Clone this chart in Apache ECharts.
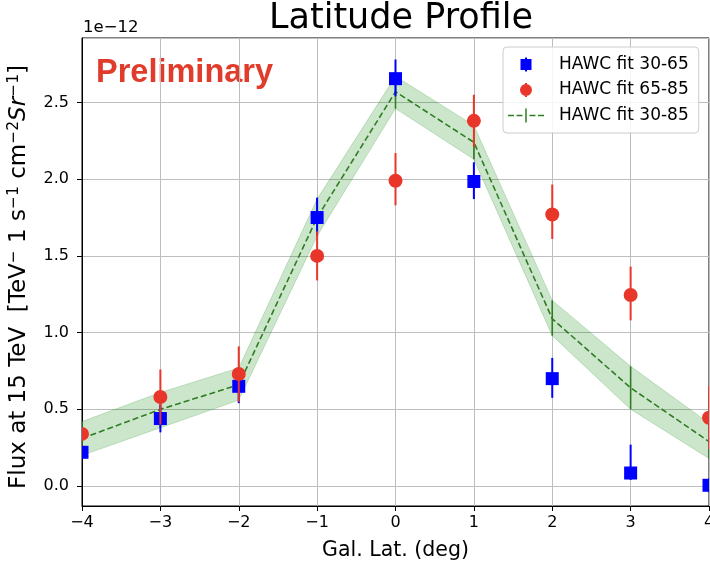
<!DOCTYPE html>
<html>
<head>
<meta charset="utf-8">
<script src="https://cdn.jsdelivr.net/npm/echarts@6/dist/echarts.min.js"></script>
<style>
  html, body { margin: 0; padding: 0; background: #fff; }
  #main { width: 710px; height: 571px; }
</style>
</head>
<body>
<div id="main"></div>
<script>
// flux values in units of 1e-12
const lat = [-4, -3, -2, -1, 0, 1, 2, 3, 4];

const flux3065 = [0.22, 0.44, 0.65, 1.75, 2.655, 1.985, 0.70, 0.085, 0.005];
const lo3065 = [0.18, 0.35, 0.54, 1.63, 2.54, 1.87, 0.575, 0.04, -0.04];
const hi3065 = [0.26, 0.53, 0.72, 1.88, 2.78, 2.11, 0.835, 0.27, 0.05];

const flux6585 = [0.34, 0.58, 0.73, 1.50, 1.99, 2.38, 1.77, 1.245, 0.445];
const lo6585 = [0.30, 0.40, 0.55, 1.34, 1.83, 2.21, 1.61, 1.08, 0.24];
const hi6585 = [0.38, 0.76, 0.91, 1.66, 2.17, 2.55, 1.965, 1.43, 0.65];

const fit3085 = [0.31, 0.50, 0.66, 1.75, 2.57, 2.24, 1.09, 0.64, 0.29];
const fitLo = [0.20, 0.38, 0.56, 1.63, 2.46, 2.13, 0.98, 0.50, 0.18];
const fitHi = [0.42, 0.61, 0.77, 1.87, 2.67, 2.35, 1.21, 0.78, 0.41];

const FONT = 'DejaVu Sans';
const BLUE = '#0000ff';
const RED = '#e8372a';
const GREEN = '#2f7d22';

function rows(ys, lo, hi) {
    return lat.map((x, i) => [x, ys[i], lo[i], hi[i]]);
}

function minus(v) {
    return (v < 0 ? '\u2212' : '') + Math.abs(v);
}

function pointSeries(name, ys, lo, hi, color, shape, z) {
    return {
        name: name,
        type: 'custom',
        clip: true,
        z: z,
        itemStyle: { color: color },
        data: rows(ys, lo, hi),
        renderItem: function (params, api) {
            const c = api.coord([api.value(0), api.value(1)]);
            const l = api.coord([api.value(0), api.value(2)]);
            const h = api.coord([api.value(0), api.value(3)]);
            const bar = {
                type: 'line',
                shape: { x1: c[0], y1: l[1], x2: c[0], y2: h[1] },
                style: { stroke: color, lineWidth: 2 }
            };
            let mark;
            if (shape === 'rect') {
                mark = { type: 'rect', shape: { x: c[0] - 6.5, y: c[1] - 6.5, width: 13, height: 13 }, style: { fill: color } };
            } else {
                mark = { type: 'circle', shape: { cx: c[0], cy: c[1], r: 7 }, style: { fill: color } };
            }
            return { type: 'group', children: [bar, mark] };
        }
    };
}

const chart = echarts.init(document.getElementById('main'));

chart.setOption({
    animation: false,
    title: {
        text: 'Latitude Profile',
        left: 396,
        textAlign: 'center',
        top: -4,
        textStyle: { fontFamily: FONT, fontSize: 35, fontWeight: 'normal', color: '#000' }
    },
    grid: {
        left: 82, right: 1, top: 38, bottom: 65,
        outerBoundsMode: 'none',
        containLabel: false,
        show: true, borderColor: '#000', borderWidth: 1
    },
    legend: {
        orient: 'vertical',
        left: 503, top: 47,
        padding: [9, 10, 9, 5],
        itemWidth: 36, itemHeight: 14, itemGap: 8.5,
        backgroundColor: 'rgba(255,255,255,0.85)',
        borderColor: '#cccccc', borderWidth: 1, borderRadius: 4,
        itemStyle: { borderWidth: 0 },
        textStyle: { fontFamily: FONT, fontSize: 17, color: '#000', padding: [0, 0, 0, 10] },
        data: [
            { name: 'HAWC fit 30-65', icon: 'path://M0,0h0.01v0.01h-0.01z M35.99,13.99h0.01v0.01h-0.01z M12.5,1.5h11v11h-11z M17,0h2v14h-2z' },
            { name: 'HAWC fit 65-85', icon: 'path://M0,0h0.01v0.01h-0.01z M35.99,13.99h0.01v0.01h-0.01z M12,7a6,6 0 1,1 12,0a6,6 0 1,1 -12,0z M17,0h2v14h-2z' },
            { name: 'HAWC fit 30-85', icon: 'path://M0,0h0.01v0.01h-0.01z M35.99,13.99h0.01v0.01h-0.01z M0,6.25h6v1.5h-6z M8.5,6.25h6v1.5h-6z M21.5,6.25h6v1.5h-6z M30,6.25h6v1.5h-6z M17.25,0h1.5v14h-1.5z' }
        ]
    },
    graphic: [
        {
            type: 'text', left: 83, top: 19,
            style: { text: '1e\u221212', fontFamily: FONT, fontSize: 16.5, fill: '#000' }
        },
        {
            type: 'text', x: 96, y: 73,
            style: { text: 'Preliminary', fontFamily: 'Liberation Sans', fontWeight: 'bold', fontSize: 32.5, fill: '#e03b2b', verticalAlign: 'middle' }
        }
    ],
    xAxis: {
        type: 'value',
        min: -4, max: 4, interval: 1,
        name: 'Gal. Lat. (deg)',
        nameLocation: 'middle',
        nameGap: 34,
        nameTextStyle: { fontFamily: FONT, fontSize: 20.5, color: '#000' },
        axisLine: { onZero: false, lineStyle: { color: '#000', width: 1 } },
        axisTick: { length: 5, lineStyle: { color: '#000' } },
        axisLabel: { fontFamily: FONT, fontSize: 16, color: '#000', margin: 9, formatter: minus },
        splitLine: { show: true, lineStyle: { color: '#bdbdbd', width: 1 } }
    },
    yAxis: {
        type: 'value',
        min: -0.13, max: 2.92, splitNumber: 6,
        name: 'Flux at 15 TeV  [TeV{s|\u2212} 1 s{s|\u22121} cm{s|\u22122}{i|Sr}{s|\u22121}]',
        nameLocation: 'middle',
        nameGap: 50,
        nameTextStyle: {
            fontFamily: FONT, fontSize: 23, color: '#000', lineHeight: 26,
            padding: [0, 10, 0, 0],
            rich: {
                s: { fontFamily: FONT, fontSize: 15.5, color: '#000', lineHeight: 15, verticalAlign: 'top' },
                i: { fontFamily: FONT, fontSize: 23, fontStyle: 'italic', color: '#000', lineHeight: 26 }
            }
        },
        axisLine: { show: true, onZero: false, lineStyle: { color: '#000', width: 1 } },
        axisTick: { show: true, length: 5, lineStyle: { color: '#000' } },
        axisLabel: {
            fontFamily: FONT, fontSize: 16, color: '#000', margin: 13,
            showMinLabel: false, showMaxLabel: false,
            formatter: v => (v < 0 ? '\u2212' : '') + Math.abs(v).toFixed(1)
        },
        splitLine: { show: true, lineStyle: { color: '#bdbdbd', width: 1 } }
    },
    series: [
        {
            name: 'band',
            type: 'custom',
            clip: true,
            z: 2,
            data: lat.map((x, i) => [x, fitLo[i], fitHi[i]]),
            renderItem: function (params, api) {
                if (params.dataIndex !== 0) return;
                const pts = [];
                lat.forEach((x, i) => pts.push(api.coord([x, fitHi[i]])));
                for (let i = lat.length - 1; i >= 0; i--) pts.push(api.coord([lat[i], fitLo[i]]));
                return {
                    type: 'polygon',
                    shape: { points: pts },
                    style: { fill: 'rgba(0,128,0,0.2)', stroke: 'rgba(0,128,0,0.2)', lineWidth: 1 }
                };
            }
        },
        {
            name: 'HAWC fit 30-85',
            type: 'line',
            z: 3,
            data: lat.map((x, i) => [x, fit3085[i]]),
            symbol: 'none',
            itemStyle: { color: GREEN },
            lineStyle: { color: GREEN, width: 1.6, type: [6, 3] }
        },
        {
            name: 'fit errors',
            type: 'custom',
            clip: true,
            z: 3,
            data: lat.map((x, i) => [x, fitLo[i], fitHi[i]]),
            renderItem: function (params, api) {
                const l = api.coord([api.value(0), api.value(1)]);
                const h = api.coord([api.value(0), api.value(2)]);
                return {
                    type: 'line',
                    shape: { x1: l[0], y1: l[1], x2: h[0], y2: h[1] },
                    style: { stroke: GREEN, lineWidth: 1.6 }
                };
            }
        },
        pointSeries('HAWC fit 30-65', flux3065, lo3065, hi3065, BLUE, 'rect', 4),
        pointSeries('HAWC fit 65-85', flux6585, lo6585, hi6585, RED, 'circle', 5)
    ]
});
</script>
</body>
</html>
